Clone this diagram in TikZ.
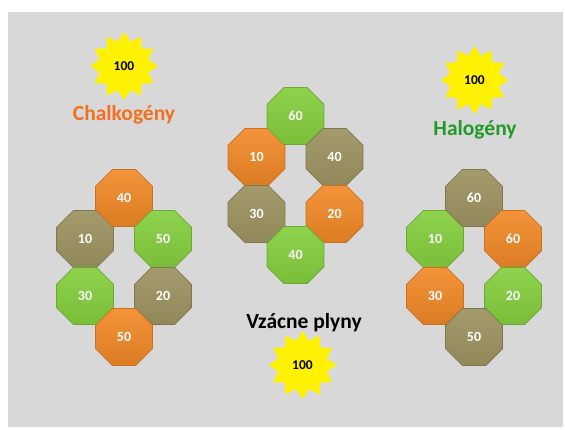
\documentclass[tikz,border=0pt]{standalone}
\usepackage{fontspec}
\setmainfont{Carlito}
\usetikzlibrary{shapes.geometric}
\definecolor{panelgrey}{RGB}{216,216,216}
\definecolor{tileorange}{RGB}{243,138,40}
\definecolor{tileolive}{RGB}{158,148,98}
\definecolor{tilegreen}{RGB}{132,206,62}
\definecolor{chalkorange}{RGB}{242,112,30}
\definecolor{halogreen}{RGB}{34,154,40}

\begin{document}
\begin{tikzpicture}[x=1pt, y=-1pt,
    octo/.style={regular polygon, regular polygon sides=8, minimum size=61.5pt, inner sep=0pt,
        line width=0.8pt, text=white, font=\bfseries\fontsize{14}{14}\selectfont},
    orangeocto/.style={octo, top color=tileorange!92!white, middle color=tileorange, bottom color=tileorange!90!black, draw=tileorange!82!black},
    oliveocto/.style={octo, top color=tileolive!94!white, middle color=tileolive, bottom color=tileolive!92!black, draw=tileolive!80!black},
    greenocto/.style={octo, top color=tilegreen!92!white, middle color=tilegreen, bottom color=tilegreen!92!black, draw=tilegreen!82!black},
    burst/.style={star, star points=12, star point ratio=1.36, minimum size=68pt, inner sep=0pt,
        fill=yellow, font=\bfseries\fontsize{13.5}{13.5}\selectfont},
    heading/.style={anchor=base, font=\bfseries\fontsize{21.5}{21.5}\selectfont}]
\fill[white] (0,0) rectangle (565,429);
\fill[panelgrey] (8,12) rectangle (563,427);
% Chalkogeny
\node[burst] (chalkstar) at (124,66) {100};
\node[heading, text=chalkorange] (chalktitle) at (124,120) {Chalkogény};
\begin{scope}[shift={(124,268)}]
    \node[oliveocto] (chalkA) at (-39,-29) {10};
    \node[orangeocto] (chalkB) at (0,-70) {40};
    \node[greenocto] (chalkC) at (39,-29) {50};
    \node[greenocto] (chalkD) at (-39,28) {30};
    \node[oliveocto] (chalkE) at (39,28) {20};
    \node[orangeocto] (chalkF) at (0,69) {50};
\end{scope}
% Vzacne plyny
\begin{scope}[shift={(295.5,186)}]
    \node[orangeocto] (nobleA) at (-39,-29) {10};
    \node[greenocto] (nobleB) at (0,-70) {60};
    \node[oliveocto] (nobleC) at (39,-29) {40};
    \node[oliveocto] (nobleD) at (-39,28) {30};
    \node[orangeocto] (nobleE) at (39,28) {20};
    \node[greenocto] (nobleF) at (0,69) {40};
\end{scope}
\node[heading, text=black] (nobletitle) at (304,328) {Vzácne plyny};
\node[burst] (noblestar) at (302.5,365) {100};
% Halogeny
\node[burst] (halostar) at (474.5,80) {100};
\node[heading, text=halogreen] (halotitle) at (475,135) {Halogény};
\begin{scope}[shift={(474,268)}]
    \node[greenocto] (haloA) at (-39,-29) {10};
    \node[oliveocto] (haloB) at (0,-70) {60};
    \node[orangeocto] (haloC) at (39,-29) {60};
    \node[orangeocto] (haloD) at (-39,28) {30};
    \node[greenocto] (haloE) at (39,28) {20};
    \node[oliveocto] (haloF) at (0,69) {50};
\end{scope}
\end{tikzpicture}
\end{document}
